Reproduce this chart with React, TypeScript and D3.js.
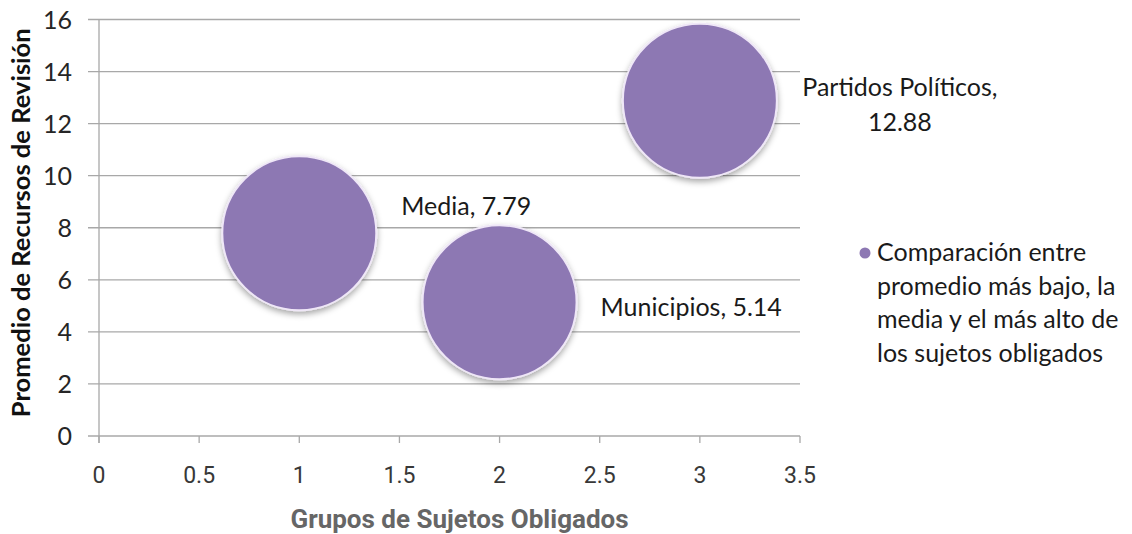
import React from "react";
import * as d3 from "d3";

const categories = ["Media", "Municipios", "Partidos Políticos"];
const xValues = [1, 2, 3];
const yValues = [7.79, 5.14, 12.88];
const bubbleSizes = [1, 1, 1];
const xTicks = [0, 0.5, 1, 1.5, 2, 2.5, 3, 3.5];
const yTicks = [0, 2, 4, 6, 8, 10, 12, 14, 16];
const legendLines = [
  "Comparación entre",
  "promedio más bajo, la",
  "media y el más alto de",
  "los sujetos obligados",
];
const xTitle = "Grupos de Sujetos Obligados";
const yTitle = "Promedio de Recursos de Revisión";

const W = 1132;
const H = 534;
const left = 99;
const right = 800;
const top = 19.5;
const bottom = 436;

export default function App() {
  const x = d3.scaleLinear().domain([0, 3.5]).range([left, right]);
  const y = d3.scaleLinear().domain([0, 16]).range([bottom, top]);
  const r = d3.scaleSqrt().domain([0, 1]).range([0, 77]);
  const fmt = (v: number) => d3.format(".2f")(v);
  const gridColor = "#a8a8a8";
  const bubbleFill = "#8d78b3";
  const labelFont = "Lato, 'Open Sans', sans-serif";
  const labelSize = 25;
  const textColor = "#1a1a1a";

  const pX = x(xValues[2]) + r(bubbleSizes[2]) + 123;

  return (
    <svg
      width={W}
      height={H}
      style={{ position: "absolute", left: 0, top: 0, background: "#fff" }}
    >
      <defs>
        <filter id="shadow" x="-30%" y="-30%" width="160%" height="170%">
          <feDropShadow dx="0" dy="3" stdDeviation="3" floodColor="#000" floodOpacity="0.35" />
        </filter>
      </defs>
      {/* gridlines */}
      {yTicks.map((t) => (
        <line
          key={"g" + t}
          x1={left - 11}
          x2={right}
          y1={y(t)}
          y2={y(t)}
          stroke={gridColor}
          strokeWidth={1.3}
        />
      ))}
      {/* y axis line */}
      <line x1={left} x2={left} y1={top} y2={bottom + 7} stroke={gridColor} strokeWidth={1.3} />
      {/* x ticks */}
      {xTicks.map((t) => (
        <line
          key={"xt" + t}
          x1={x(t)}
          x2={x(t)}
          y1={bottom}
          y2={bottom + 7}
          stroke={gridColor}
          strokeWidth={1.3}
        />
      ))}
      {/* y tick labels */}
      {yTicks.map((t) => (
        <text
          key={"yl" + t}
          x={left - 27}
          y={y(t)}
          dy="0.36em"
          textAnchor="end"
          fontFamily={labelFont}
          fontSize={25}
          fill="#262626"
        >
          {t}
        </text>
      ))}
      {/* x tick labels */}
      {xTicks.map((t) => (
        <text
          key={"xl" + t}
          x={x(t)}
          y={bottom + 47}
          textAnchor="middle"
          fontFamily="Roboto, sans-serif"
          fontSize={23}
          fill="#383838"
        >
          {t}
        </text>
      ))}
      {/* axis titles */}
      <text
        x={(left + right) / 2 + 10}
        y={528}
        textAnchor="middle"
        fontFamily="Roboto, sans-serif"
        fontWeight={700}
        fontSize={26}
        fill="#666"
      >
        {xTitle}
      </text>
      <text
        transform={`translate(30, ${(top + bottom) / 2 - 5}) rotate(-90)`}
        textAnchor="middle"
        fontFamily={labelFont}
        fontWeight={700}
        fontSize={25.5}
        fill="#111"
      >
        {yTitle}
      </text>
      {/* bubbles */}
      {categories.map((c, i) => (
        <circle
          key={"b" + c}
          cx={x(xValues[i])}
          cy={y(yValues[i])}
          r={r(bubbleSizes[i])}
          fill={bubbleFill}
          stroke="#efe7f7"
          strokeWidth={2}
          filter="url(#shadow)"
        />
      ))}
      {/* data labels */}
      <text
        x={x(xValues[0]) + r(bubbleSizes[0]) + 25}
        y={y(yValues[0]) - 18}
        fontFamily={labelFont}
        fontSize={labelSize}
        fill={textColor}
      >
        {`${categories[0]}, ${fmt(yValues[0])}`}
      </text>
      <text
        x={x(xValues[1]) + r(bubbleSizes[1]) + 24}
        y={y(yValues[1]) + 14}
        fontFamily={labelFont}
        fontSize={labelSize}
        fill={textColor}
      >
        {`${categories[1]}, ${fmt(yValues[1])}`}
      </text>
      <text
        x={pX}
        y={y(yValues[2]) - 5}
        textAnchor="middle"
        fontFamily={labelFont}
        fontSize={labelSize}
        fill={textColor}
      >
        <tspan x={pX}>{`${categories[2]},`}</tspan>
        <tspan x={pX} dy={35}>
          {fmt(yValues[2])}
        </tspan>
      </text>
      {/* legend */}
      <circle cx={865} cy={253} r={5.5} fill={bubbleFill} />
      {legendLines.map((l, i) => (
        <text
          key={"lg" + i}
          x={877}
          y={261 + i * 33.5}
          fontFamily={labelFont}
          fontSize={labelSize}
          fill={textColor}
        >
          {l}
        </text>
      ))}
    </svg>
  );
}
